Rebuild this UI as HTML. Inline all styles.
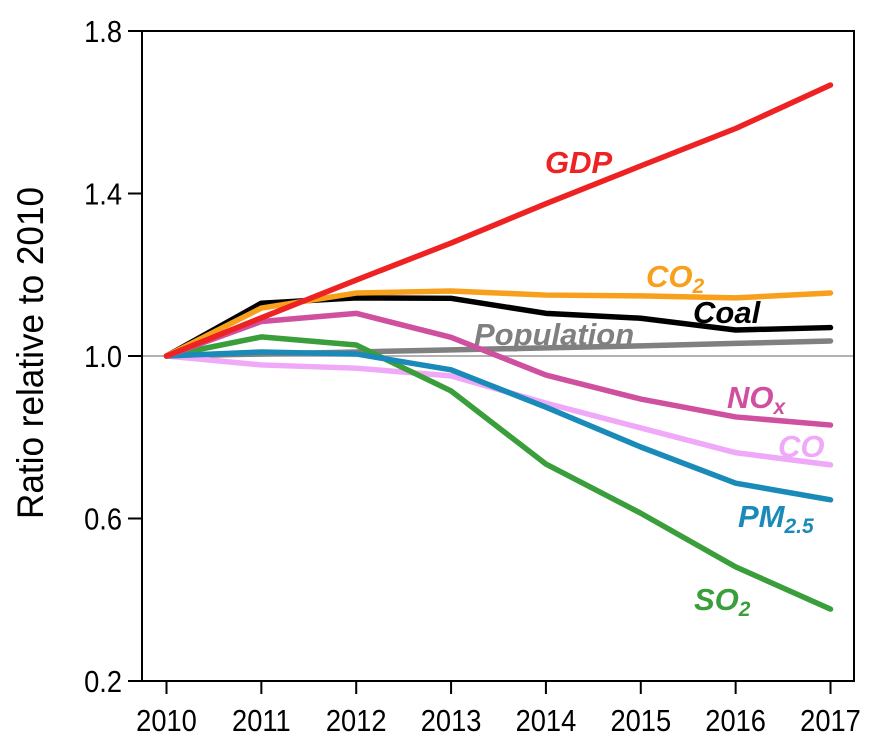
<!DOCTYPE html>
<html><head><meta charset="utf-8"><style>
body{margin:0;background:#fff;}
svg{display:block;font-family:"Liberation Sans",Arial,sans-serif;}
.lab{font-weight:bold;font-style:italic;font-size:31px;}
</style></head><body>
<svg id="chart" width="880" height="748">
<rect x="142" y="31" width="712" height="650" fill="none" stroke="#000" stroke-width="2"/>
<g id="axes"></g>
<g id="series"></g>
<text transform="translate(43,353) rotate(-90) scale(0.95,1)" text-anchor="middle" font-size="37">Ratio relative to 2010</text>
<g class="lab">
<text x="545" y="173" fill="#ee2222">GDP</text>
<text x="646" y="287" fill="#f8a01c">CO<tspan font-size="21" dy="6">2</tspan></text>
<text x="693" y="323" fill="#000">Coal</text>
<text x="474" y="345" fill="#808080">Population</text>
<text x="727" y="408" fill="#d050a0">NO<tspan font-size="21" dy="6">x</tspan></text>
<text x="778" y="457" fill="#f0a8f8">CO</text>
<text x="738" y="527" fill="#1a8ab8">PM<tspan font-size="21" dy="6">2.5</tspan></text>
<text x="694" y="610" fill="#3a9e3a">SO<tspan font-size="21" dy="6">2</tspan></text>
</g>
</svg>
<script>
const years = [2010,2011,2012,2013,2014,2015,2016,2017];
const yTicks = [0.2,0.6,1.0,1.4,1.8];
const yTickLabels = ["0.2","0.6","1.0","1.4","1.8"];
const gdp = [1.0,1.094,1.187,1.278,1.375,1.468,1.56,1.667];
const co2 = [1.0,1.118,1.155,1.16,1.15,1.148,1.143,1.155];
const coal = [1.0,1.13,1.143,1.142,1.105,1.093,1.064,1.07];
const population = [1.0,1.005,1.01,1.015,1.02,1.025,1.031,1.037];
const nox = [1.0,1.085,1.105,1.046,0.953,0.894,0.85,0.83];
const co = [1.0,0.978,0.97,0.951,0.884,0.823,0.762,0.732];
const pm25 = [1.0,1.01,1.005,0.966,0.874,0.776,0.687,0.646];
const so2 = [1.0,1.047,1.027,0.914,0.734,0.613,0.481,0.377];
const NS="http://www.w3.org/2000/svg";
const xs = i => 166.5 + i*(830.5-166.5)/7;
const ys = v => 681 - (v-0.2)*(650/1.6);
const axes=document.getElementById('axes'), ser=document.getElementById('series');
function mk(tag,attrs,parent){const e=document.createElementNS(NS,tag);for(const k in attrs)e.setAttribute(k,attrs[k]);parent.appendChild(e);return e;}
yTicks.forEach((t,i)=>{
  const l=mk('line',{x1:128,x2:142,y1:ys(t),y2:ys(t),stroke:'#000','stroke-width':2},axes);
  
  
  const tx=mk('text',{transform:'translate(122,'+(ys(t)+11)+') scale(0.88,1)','text-anchor':'end','font-size':31},axes);
  tx.textContent=yTickLabels[i];
  
  
});
years.forEach((y,i)=>{
  const l=mk('line',{x1:xs(i),x2:xs(i),y1:681,y2:694,stroke:'#000','stroke-width':2},axes);
  
  
  const tx=mk('text',{transform:'translate('+xs(i)+',731) scale(0.88,1)','text-anchor':'middle','font-size':31},axes);
  tx.textContent=y;
  
  
});
const ref=mk('line',{x1:143,x2:853,y1:ys(1),y2:ys(1),stroke:'#999','stroke-width':1.5},axes);


const list=[[population,'#808080','population-line'],[co,'#f0a8f8','co-line'],[so2,'#3a9e3a','so2-line'],[pm25,'#1a8ab8','pm25-line'],[nox,'#d050a0','nox-line'],[coal,'#000','coal-line'],[co2,'#f8a01c','co2-line'],[gdp,'#ee2222','gdp-line']];
list.forEach(([d,c,n])=>{
  const p=mk('polyline',{points:d.map((v,i)=>xs(i)+','+ys(v)).join(' '),fill:'none',stroke:c,'stroke-width':5.5,'stroke-linejoin':'round','stroke-linecap':'round'},ser);
  
  
});
</script>
</body></html>
